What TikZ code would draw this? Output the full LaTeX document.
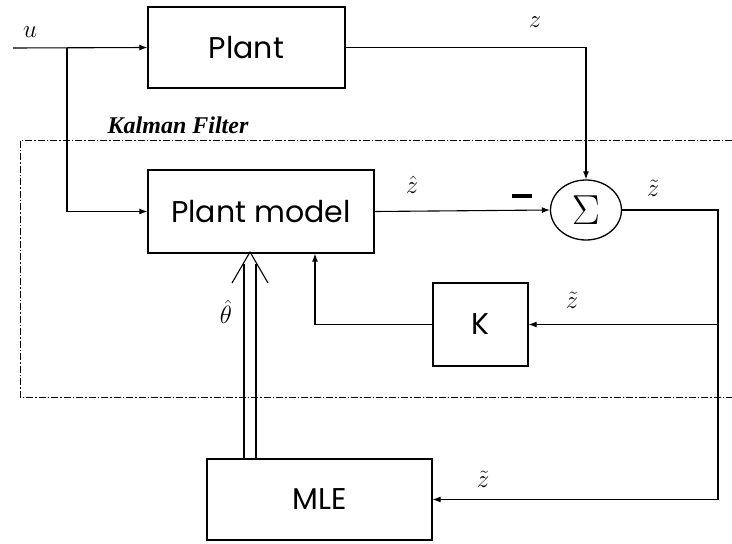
\RequirePackage{fix-cm}
\documentclass[tikz,border=0pt]{standalone}
\usepackage{amsmath,amssymb}
\usepackage{fontspec}
\newfontfamily\boxfont{Poppins}
\newfontfamily\kalfont{Liberation Serif}
\usetikzlibrary{arrows.meta,shapes,positioning,calc}

\begin{document}
\begin{tikzpicture}[x=1pt, y=-1pt, >={Latex[length=8pt,width=6pt]},
    block/.style={draw, line width=1.3pt, inner sep=0pt, font=\boxfont\fontsize{30}{30}\selectfont},
    sig/.style={line width=1.1pt},
    lab/.style={font=\fontsize{25}{25}\selectfont, inner sep=0pt},
    kf/.style={draw, line width=1pt, dash pattern=on 7pt off 2pt on 1.5pt off 2pt}]
    \useasboundingbox (0,0) rectangle (732,544);

    % Blocks
    \node[block, minimum width=197pt, minimum height=81pt] (plant) at (246.5,47.5) {Plant};
    \node[block, minimum width=226pt, minimum height=83pt] (model) at (261,211.5) {Plant model};
    \node[block, minimum width=95pt, minimum height=83pt] (gain) at (480.5,324.5) {K};
    \node[block, minimum width=225pt, minimum height=81pt] (mle) at (319.5,499.5) {MLE};
    \node[draw, ellipse, line width=1.3pt, minimum width=71pt, minimum height=60pt, inner sep=0pt] (sum) at (586,210) {\fontsize{42}{42}\selectfont$\Sigma$};

    % Kalman filter border
    \draw[kf] (732,140) -- (20,140) -- (20,397) -- (732,397);
    \node[font=\kalfont\bfseries\itshape\fontsize{24}{24}\selectfont, inner sep=0pt] (kflabel) at (178,125) {Kalman Filter};

    % Coordinates
    \coordinate (uin) at (13,48);
    \coordinate (usplit) at (67,48);
    \coordinate (ztap) at (718,210);
    \coordinate (ktap) at (718,324.5);
    \coordinate (mtap) at (718,499.5);
    \coordinate (kcorner) at (315,324.5);
    \coordinate (th) at (250,252);

    % Signals
    \draw[sig, ->] (uin) -- (plant.west);
    \draw[sig, ->] (usplit) |- (model.west);
    \draw[sig, ->] (plant.east) -| (sum.north);
    \draw[sig, ->] (model.east) -- (sum.west);
    \draw[sig] (sum.east) -- (ztap) -- (mtap);
    \draw[sig, ->] (mtap) -- (mle.east);
    \draw[sig, ->] (ktap) -- (gain.east);
    \draw[sig, ->] (gain.west) -- (kcorner) -- (kcorner |- model.south);

    % Double arrow from MLE
    \draw[line width=1.1pt] ([xshift=-6pt]th |- mle.north) -- ([xshift=-6pt,yshift=-12pt]th);
    \draw[line width=1.1pt] ([xshift=6pt]th |- mle.north) -- ([xshift=6pt,yshift=-12pt]th);
    \draw[line width=1.1pt] ([xshift=-18pt,yshift=-31pt]th) -- (th) -- ([xshift=18pt,yshift=-31pt]th);

    % Labels
    \node[lab] (ulab) at (30,32) {$u$};
    \node[lab] (zlab) at (535,22) {$z$};
    \node[lab] (zhlab) at (412,185) {$\hat{z}$};
    \node[inner sep=0pt] (minus) at (522,196) {\rule{20pt}{4pt}};
    \node[lab] (zt1) at (653,188) {$\tilde{z}$};
    \node[lab] (zt2) at (572,300) {$\tilde{z}$};
    \node[lab] (thlab) at (226,312) {$\hat{\theta}$};
    \node[lab] (zt3) at (483,479) {$\tilde{z}$};
\end{tikzpicture}
\end{document}
